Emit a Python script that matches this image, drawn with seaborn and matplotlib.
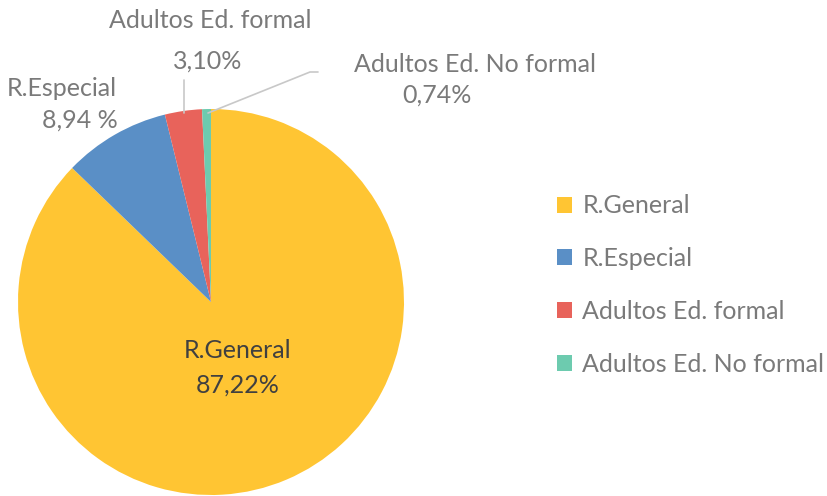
import matplotlib.pyplot as plt
import seaborn as sns

categories = ["R.General", "R.Especial", "Adultos Ed. formal", "Adultos Ed. No formal"]
shares = [87.22, 8.94, 3.10, 0.74]
share_labels = ["87,22%", "8,94 %", "3,10%", "0,74%"]
colors = ["#FFC533", "#5A8FC6", "#E8635B", "#6DCBAF"]

sns.set_theme(style="white")
plt.rcParams["font.family"] = ["Lato", "DejaVu Sans"]

W, H = 828, 496
cx, cy, r = 211, 302, 193
fig = plt.figure(figsize=(W / 100, H / 100), dpi=100)
ax = fig.add_axes([(cx - r) / W, (H - cy - r) / H, 2 * r / W, 2 * r / H])

wedges, _ = ax.pie(shares, colors=colors, startangle=90, counterclock=False,
                   radius=1, wedgeprops=dict(linewidth=0))
ax.set_xlim(-1, 1)
ax.set_ylim(-1, 1)
ax.set_aspect("equal")
ax.axis("off")


def px(x, y):
    return (x - cx) / r, (cy - y) / r


grey = "#7a7a7a"
fs = 18
ax.text(*px(238, 350), categories[0], ha="center", va="center", fontsize=fs, color="#404040")
ax.text(*px(238, 385), share_labels[0], ha="center", va="center", fontsize=fs, color="#404040")

ax.text(*px(62, 89), categories[1], ha="center", va="center", fontsize=fs, color=grey, clip_on=False)
ax.text(*px(80, 120), share_labels[1], ha="center", va="center", fontsize=fs, color=grey, clip_on=False)

ax.text(*px(210, 21), categories[2], ha="center", va="center", fontsize=fs, color=grey, clip_on=False)
ax.text(*px(208, 61), share_labels[2], ha="center", va="center", fontsize=fs, color=grey, clip_on=False)

ax.text(*px(475, 64), categories[3], ha="center", va="center", fontsize=fs, color=grey, clip_on=False)
ax.text(*px(437, 95), share_labels[3], ha="center", va="center", fontsize=fs, color=grey, clip_on=False)

line_kw = dict(color="#c8c8c8", linewidth=1.2, clip_on=False)
ax.plot(*zip(px(184, 113), px(184, 80)), **line_kw)
ax.plot(*zip(px(208, 113), px(310, 72), px(318, 72)), **line_kw)

fig.legend(wedges, categories, loc="center left", bbox_to_anchor=(535 / W, 1 - 285 / H),
           frameon=False, fontsize=fs, labelcolor=grey, handlelength=0.6, handleheight=0.6,
           handletextpad=0.4, labelspacing=1.19)

fig.savefig("out.png", dpi=100)
